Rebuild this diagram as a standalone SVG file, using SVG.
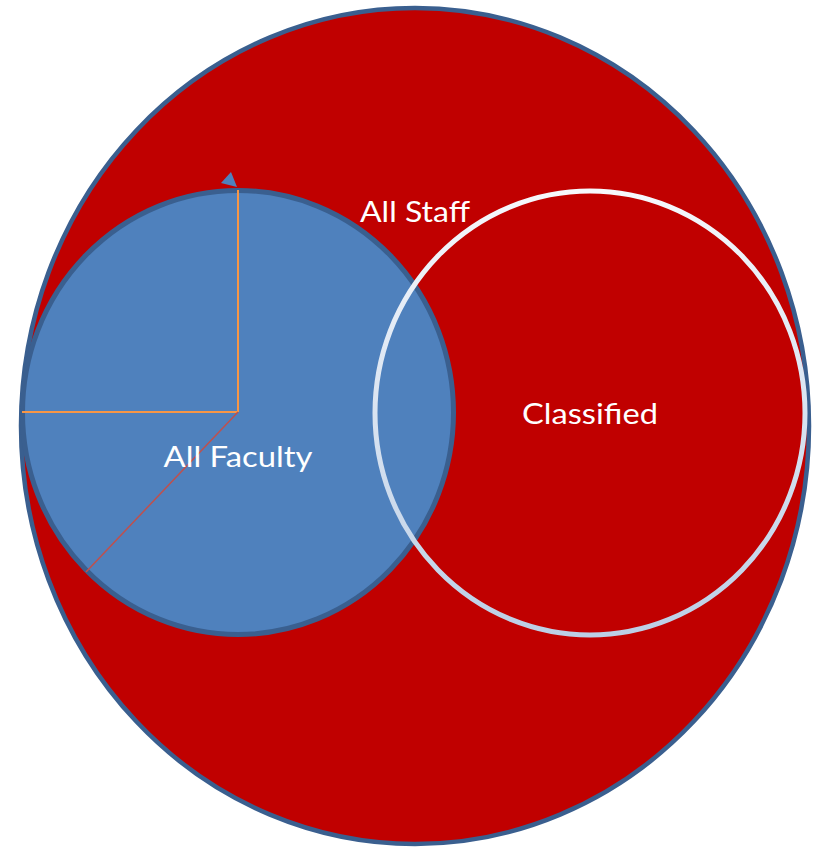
<svg xmlns="http://www.w3.org/2000/svg" width="820" height="847" viewBox="0 0 820 847">
<defs>
<linearGradient id="ring" x1="0" y1="0" x2="0" y2="1">
<stop offset="0" stop-color="#f6f8fc"/>
<stop offset="1" stop-color="#bccfe6"/>
</linearGradient>
<style>
.lbl{font-family:Lato,"Open Sans","Liberation Sans",sans-serif;font-size:29px;fill:#ffffff;text-anchor:middle}
</style>
</defs>
<rect width="820" height="847" fill="#ffffff"/>
<g id="all-staff">
<ellipse cx="415" cy="426" rx="394" ry="418" fill="#c00000" stroke="#3a5f8f" stroke-width="4.5"/>
<text class="lbl" x="415" y="222" textLength="110" lengthAdjust="spacingAndGlyphs">All Staff</text>
</g>
<g id="all-faculty">
<ellipse cx="238" cy="412.5" rx="215.5" ry="222" fill="#4f81bd" stroke="#3a5f8f" stroke-width="5"/>
</g>
<g id="connectors">
<line x1="238" y1="412" x2="238" y2="190" stroke="#f79646" stroke-width="2"/>
<line x1="238" y1="412" x2="22" y2="412" stroke="#f79646" stroke-width="2"/>
<line x1="238" y1="412" x2="86" y2="572" stroke="#c0504d" stroke-width="1.5"/>
<polygon points="221,183 231,172 237,187" fill="#4f81bd"/>
</g>
<g id="classified">
<ellipse cx="590" cy="413" rx="215" ry="222" fill="none" stroke="url(#ring)" stroke-width="5"/>
<text class="lbl" x="590" y="424" textLength="136" lengthAdjust="spacingAndGlyphs">Classified</text>
</g>
<g id="all-faculty-label">
<text class="lbl" x="238" y="467" textLength="149" lengthAdjust="spacingAndGlyphs">All Faculty</text>
</g>
</svg>
